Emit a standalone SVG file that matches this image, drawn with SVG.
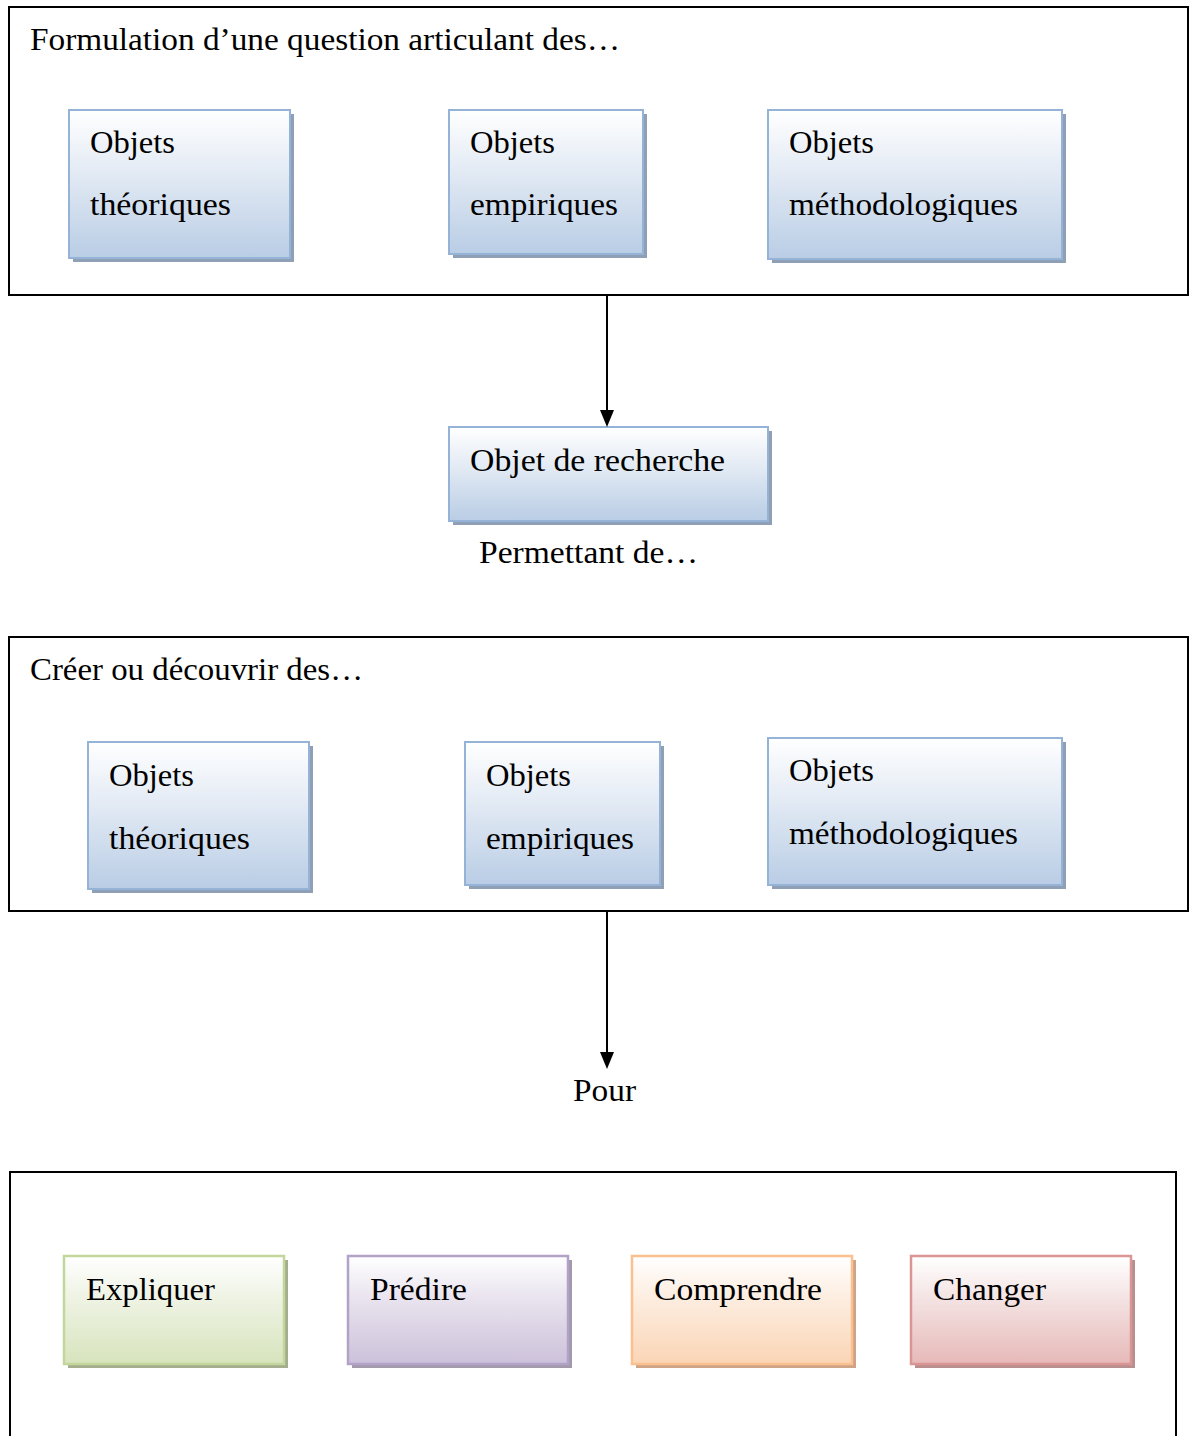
<svg xmlns="http://www.w3.org/2000/svg" width="1190" height="1436" viewBox="0 0 1190 1436">
<defs>
<linearGradient id="gBlue" x1="0" y1="0" x2="0" y2="1"><stop offset="0" stop-color="#ffffff"/><stop offset="0.35" stop-color="#e8eef6"/><stop offset="1" stop-color="#b9cde5"/></linearGradient>
<linearGradient id="gGreen" x1="0" y1="0" x2="0" y2="1"><stop offset="0" stop-color="#ffffff"/><stop offset="0.35" stop-color="#f0f4e6"/><stop offset="1" stop-color="#d7e4bd"/></linearGradient>
<linearGradient id="gPurple" x1="0" y1="0" x2="0" y2="1"><stop offset="0" stop-color="#ffffff"/><stop offset="0.35" stop-color="#ebe6f0"/><stop offset="1" stop-color="#ccc1da"/></linearGradient>
<linearGradient id="gOrange" x1="0" y1="0" x2="0" y2="1"><stop offset="0" stop-color="#ffffff"/><stop offset="0.35" stop-color="#fdefe3"/><stop offset="1" stop-color="#fad5b5"/></linearGradient>
<linearGradient id="gRed" x1="0" y1="0" x2="0" y2="1"><stop offset="0" stop-color="#ffffff"/><stop offset="0.35" stop-color="#f5e6e6"/><stop offset="1" stop-color="#e6b9b8"/></linearGradient>
</defs>
<style>
text{font-family:"Liberation Serif","Times New Roman",serif;font-size:32px;fill:#000}
.panel{fill:none;stroke:#000;stroke-width:2}
.blue{fill:url(#gBlue);stroke:#95b3d7;stroke-width:2}
.bshadow{fill:#8f9fb5}
.green{fill:url(#gGreen);stroke:#c3d69b;stroke-width:2.5}
.purple{fill:url(#gPurple);stroke:#b3a2c7;stroke-width:2.5}
.orange{fill:url(#gOrange);stroke:#fac090;stroke-width:2.5}
.red{fill:url(#gRed);stroke:#d99694;stroke-width:2.5}
.conn{stroke:#000;stroke-width:2;fill:none}
.head{fill:#000}
</style>
<rect width="1190" height="1436" fill="#fff"/>

<g id="panel1">
<rect class="panel" x="9" y="7" width="1179" height="288"/>
<text x="30" y="50" textLength="590" lengthAdjust="spacingAndGlyphs">Formulation d’une question articulant des…</text>
</g>
<g id="p1-theo">
<rect class="bshadow" x="73" y="114" width="221" height="148"/>
<rect class="blue" x="69" y="110" width="221" height="148"/>
<text x="90" y="153" textLength="85" lengthAdjust="spacingAndGlyphs">Objets</text><text x="90" y="215" textLength="141" lengthAdjust="spacingAndGlyphs">théoriques</text>
</g>
<g id="p1-emp">
<rect class="bshadow" x="453" y="114" width="194" height="144"/>
<rect class="blue" x="449" y="110" width="194" height="144"/>
<text x="470" y="153" textLength="85" lengthAdjust="spacingAndGlyphs">Objets</text><text x="470" y="215" textLength="148" lengthAdjust="spacingAndGlyphs">empiriques</text>
</g>
<g id="p1-meth">
<rect class="bshadow" x="772" y="114" width="294" height="149"/>
<rect class="blue" x="768" y="110" width="294" height="149"/>
<text x="789" y="153" textLength="85" lengthAdjust="spacingAndGlyphs">Objets</text><text x="789" y="215" textLength="229" lengthAdjust="spacingAndGlyphs">méthodologiques</text>
</g>

<g id="objet-recherche">
<rect class="bshadow" x="453" y="431" width="319" height="94"/>
<rect class="blue" x="449" y="427" width="319" height="94"/>
<text x="470" y="471" textLength="255" lengthAdjust="spacingAndGlyphs">Objet de recherche</text>
</g>
<text x="479" y="563" textLength="219" lengthAdjust="spacingAndGlyphs">Permettant de…</text>

<g id="panel2">
<rect class="panel" x="9" y="637" width="1179" height="274"/>
<text x="30" y="680" textLength="333" lengthAdjust="spacingAndGlyphs">Créer ou découvrir des…</text>
</g>
<g id="p2-theo">
<rect class="bshadow" x="92" y="746" width="221" height="147"/>
<rect class="blue" x="88" y="742" width="221" height="147"/>
<text x="109" y="786" textLength="85" lengthAdjust="spacingAndGlyphs">Objets</text><text x="109" y="849" textLength="141" lengthAdjust="spacingAndGlyphs">théoriques</text>
</g>
<g id="p2-emp">
<rect class="bshadow" x="469" y="746" width="195" height="143"/>
<rect class="blue" x="465" y="742" width="195" height="143"/>
<text x="486" y="786" textLength="85" lengthAdjust="spacingAndGlyphs">Objets</text><text x="486" y="849" textLength="148" lengthAdjust="spacingAndGlyphs">empiriques</text>
</g>
<g id="p2-meth">
<rect class="bshadow" x="772" y="742" width="294" height="147"/>
<rect class="blue" x="768" y="738" width="294" height="147"/>
<text x="789" y="781" textLength="85" lengthAdjust="spacingAndGlyphs">Objets</text><text x="789" y="844" textLength="229" lengthAdjust="spacingAndGlyphs">méthodologiques</text>
</g>
<text x="573" y="1101" textLength="63" lengthAdjust="spacingAndGlyphs">Pour</text>

<g id="panel3">
<path class="panel" d="M10,1438 L10,1172 L1176,1172 L1176,1438"/>
</g>
<g id="expliquer">
<rect fill="#a5ad8f" x="68" y="1260" width="220" height="108"/>
<rect class="green" x="64" y="1256" width="220" height="108"/>
<text x="86" y="1300" textLength="129" lengthAdjust="spacingAndGlyphs">Expliquer</text>
</g>
<g id="predire">
<rect fill="#a399ad" x="352" y="1260" width="220" height="108"/>
<rect class="purple" x="348" y="1256" width="220" height="108"/>
<text x="370" y="1300" textLength="97" lengthAdjust="spacingAndGlyphs">Prédire</text>
</g>
<g id="comprendre">
<rect fill="#cfa385" x="636" y="1260" width="220" height="108"/>
<rect class="orange" x="632" y="1256" width="220" height="108"/>
<text x="654" y="1300" textLength="168" lengthAdjust="spacingAndGlyphs">Comprendre</text>
</g>
<g id="changer">
<rect fill="#b88f8e" x="915" y="1260" width="220" height="108"/>
<rect class="red" x="911" y="1256" width="220" height="108"/>
<text x="933" y="1300" textLength="113" lengthAdjust="spacingAndGlyphs">Changer</text>
</g>

<g id="connectors">
<line class="conn" x1="607" y1="295" x2="607" y2="411"/>
<path class="head" d="M600,410 L614,410 L607,427 Z"/>
<line class="conn" x1="607" y1="911" x2="607" y2="1053"/>
<path class="head" d="M600,1052 L614,1052 L607,1069 Z"/>
</g>
</svg>
